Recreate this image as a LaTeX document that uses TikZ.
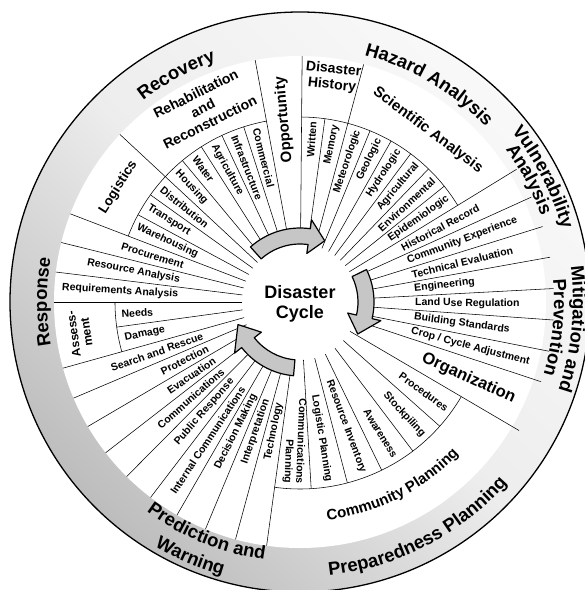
\documentclass[tikz,border=0pt]{standalone}
\usepackage{fontspec}
\setmainfont{Liberation Sans}
\usepackage{tikz}
\usetikzlibrary{decorations.text}

\newcommand{\wlab}{\fontsize{10.5}{11.5}\selectfont\bfseries}
\newcommand{\wmid}{\fontsize{14}{16}\selectfont\bfseries}
\newcommand{\wband}{\fontsize{18.5}{20}\selectfont\bfseries}

\begin{document}
\begin{tikzpicture}[x=1pt,y=1pt,
  spoke/.style={line width=0.55pt},
  lab/.style={font=\wlab,inner sep=1pt},
  mid/.style={font=\wmid,inner sep=1pt,align=center},
  cyc/.style={draw,line width=1.2pt,fill=gray!45,line join=round},
  band/.style={decorate,decoration={text along path,text align=center,text={|\wband|#1}}}]
  \useasboundingbox (-300,-288) rectangle (285,302);
  \clip (-300,-288) rectangle (285,302);
  \fill[white] (-300,-288) rectangle (285,302);
  % outer ring
  \shade[top color=gray!5,bottom color=gray!52,middle color=gray!14,shading angle=-45] (0,0) circle (290);
  \fill[white] (0,0) circle (246);
  \draw[line width=1.3pt] (0,0) circle (290);

  % spokes and arcs
  \foreach \a in {100.5,89.5,75,137.06,159,166,173,180,-97.8,-105.2,-112.6,-120,-127.4,-134.8,-142.2,-149.6,-157,-164.4}
    \draw[spoke] (\a:58) -- (\a:246);
  \foreach \a in {31.5,24.39,17.27,10.16,3.04,-4.07,-11.19,-18.3,-30.4}
    \draw[spoke] (\a:58) -- (\a:254);
  \foreach \a in {151.69,144.38,129.75,122.44,115.13,107.81}
    \draw[spoke] (\a:58) -- (\a:184);
  \foreach \a in {82.25,67.75,60.5,53.25,46,38.75}
    \draw[spoke] (\a:58) -- (\a:185);
  \foreach \a in {-41.63,-52.87,-64.1,-75.33,-86.57}
    \draw[spoke] (\a:58) -- (\a:187);
  \draw[spoke] (-172.2:58) -- (-172.2:185);
  \draw[spoke] (159:184) arc[start angle=159,end angle=100.5,radius=184];
  \draw[spoke] (89.5:185) arc[start angle=89.5,end angle=31.5,radius=185];
  \draw[spoke] (-30.4:187) arc[start angle=-30.4,end angle=-97.8,radius=187];
  \draw[spoke] (-164.4:185) arc[start angle=-164.4,end angle=-180,radius=185];

  % cycle arrows
  \draw[cyc] (132:58) arc[start angle=132,end angle=82,radius=58] -- (82:49) -- (68:66) -- (82:83) -- (82:74) arc[start angle=82,end angle=132,radius=74] -- cycle;
  \draw[cyc] (26:58) arc[start angle=26,end angle=-13,radius=58] -- (-13:49) -- (-29:66) -- (-13:83) -- (-13:74) arc[start angle=-13,end angle=26,radius=74] -- cycle;
  \draw[cyc] (-95:58) arc[start angle=-95,end angle=-142,radius=58] -- (-142:49) -- (-160:66) -- (-142:83) -- (-142:74) arc[start angle=-142,end angle=-95,radius=74] -- cycle;
  \node[font=\fontsize{18}{20}\selectfont\bfseries,align=center] (cycl) at (0,-2) {Disaster\\Cycle};

  % inner labels
  \foreach \a/\t/\n in {85.9/Written/wri,78.6/Memory/mem,71.4/Meteorologic/met,64.1/Geologic/geo,56.9/Hydrologic/hyd,49.6/Agricultural/agr,42.4/Environmental/env,35.1/Epidemiologic/epi}
    \node[lab,rotate=\a,anchor=east] (\n) at (\a:182) {\t};
  \foreach \a/\t/\n in {27.9/Historical Record/hist,20.8/Community Experience/cexp,13.7/Technical Evaluation/tech,6.6/Engineering/engi,-0.5/Land Use Regulation/land,-7.6/Building Standards/buil,-14.7/{Crop / Cycle Adjustment}/crop}
    \node[lab,rotate=\a,anchor=west] (\n) at (\a:114) {\t};
  \foreach \a/\t/\n in {-36/Procedures/pced,-47.25/Stockpiling/stoc,-58.5/Awareness/awar,-69.7/Resource Inventory/rinv,-80.95/Logistic Planning/lpla}
    \node[lab,rotate=\a,anchor=east] (\n) at (\a:183) {\t};
  \node[lab,rotate=-92.2,anchor=east,align=right] (cpla) at (-92.2:183) {Communications\\Planning};
  \foreach \a/\t/\n in {-101.5/Technology/tecn,-108.9/Interpretation/intp,-116.3/Decision Making/deci,-123.7/Internal Communications/icom,-131.1/Public Response/publ,-138.5/Communications/comm,-145.9/Evacuation/evac,-153.3/Protection/prot,-160.7/Search and Rescue/sear}
    \node[lab,rotate=\a+180,anchor=east] (\n) at (\a:102) {\t};
  \foreach \a/\t/\n in {176.5/Requirements Analysis/requ,169.5/Resource Analysis/rana,162.5/Procurement/pcur}
    \node[lab,rotate=\a-180,anchor=east] (\n) at (\a:121) {\t};
  \foreach \a/\t/\n in {-176.1/Needs/need,-168.3/Damage/dama}
    \node[lab,rotate=\a+180,anchor=west] (\n) at (\a:180) {\t};
  \foreach \a/\t/\n in {155.3/Warehousing/ware,148/Transport/tran,140.7/Distribution/dist,133.4/Housing/hous,126.1/Water/wate,118.8/Agriculture/agri,111.5/Infrastructure/infr,104.2/Commercial/comc}
    \node[lab,rotate=\a-180,anchor=west] (\n) at (\a:180) {\t};

  % middle labels
  \node[mid,rotate=95,font=\fontsize{15}{17}\selectfont\bfseries] (oppo) at (95:183) {Opportunity};
  \node[mid,rotate=-6] (dhis) at (81.7:227) {Disaster\\History};
  \node[mid,rotate=-36.7,font=\fontsize{15}{17}\selectfont\bfseries] (scie) at (53.3:214) {Scientific Analysis};
  \node[mid,rotate=26.6] (reha) at (116.6:217) {Rehabilitation\\and\\Reconstruction};
  \node[mid,rotate=57.7,font=\fontsize{13.5}{15}\selectfont\bfseries] (logi) at (147.7:215) {Logistics};
  \node[mid,rotate=98,font=\fontsize{12}{13}\selectfont\bfseries] (asse) at (-172:222) {Assess-\\ment};
  \node[mid,rotate=-24.35,font=\fontsize{16.5}{18}\selectfont\bfseries] (orga) at (-24.35:185) {Organization};
  \path[decorate,decoration={text along path,text align=center,text={|\fontsize{15}{17}\selectfont\bfseries|Community Planning}}]
    (-100:220) arc[start angle=-100,end angle=-26.6,radius=220];

  % ring labels
  \path[band=Recovery] (150:255) arc[start angle=150,end angle=87.2,radius=255];
  \path[band={Hazard Analysis}] (95:255) arc[start angle=95,end angle=23.6,radius=255];
  \path[band=Vulnerability] (55:272) arc[start angle=55,end angle=-0.6,radius=272];
  \path[band=Analysis] (50:256) arc[start angle=50,end angle=6.2,radius=256];
  \path[band={Mitigation and}] (25:273) arc[start angle=25,end angle=-36.4,radius=273];
  \path[band=Prevention] (20:254) arc[start angle=20,end angle=-31.4,radius=254];
  \path[band={Preparedness Planning}] (-105:275) arc[start angle=-105,end angle=-20,radius=275];
  \path[band={Prediction and}] (-145:260) arc[start angle=-145,end angle=-79,radius=260];
  \path[band=Warning] (-140:284) arc[start angle=-140,end angle=-86.6,radius=284];
  \path[band=Response] (210:253) arc[start angle=210,end angle=150,radius=253];
\end{tikzpicture}
\end{document}
